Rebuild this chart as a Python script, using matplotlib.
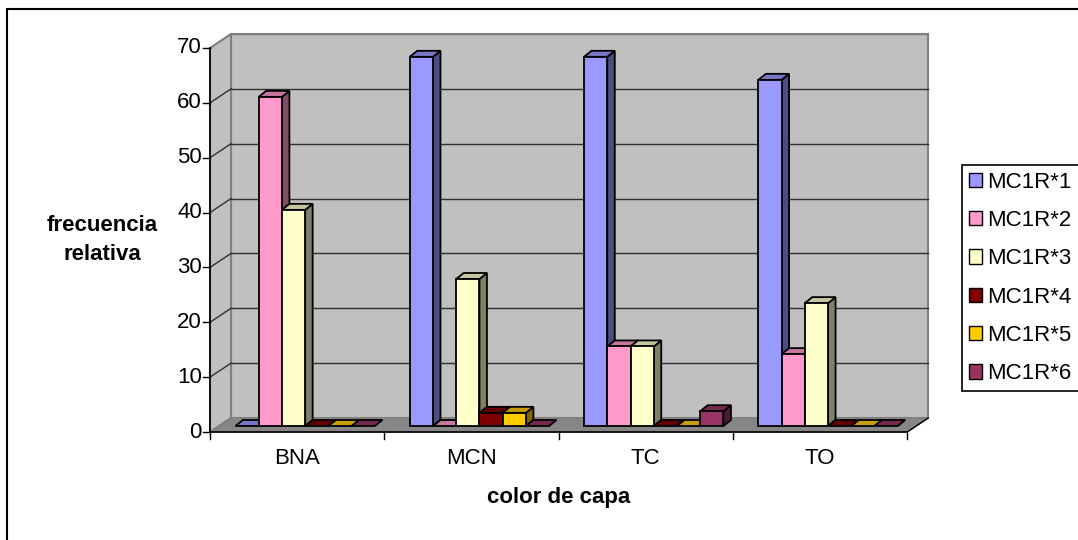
import numpy as np
import matplotlib
matplotlib.use("Agg")
import matplotlib.pyplot as plt
from matplotlib.patches import Polygon, Rectangle, Patch
from matplotlib.lines import Line2D
from matplotlib.transforms import Affine2D, IdentityTransform
from matplotlib.colors import to_rgb

plt.rcParams['font.family'] = ['Liberation Sans', 'DejaVu Sans']

# ---- data -------------------------------------------------------------
categories = ["BNA", "MCN", "TC", "TO"]
series_names = ["MC1R*1", "MC1R*2", "MC1R*3", "MC1R*4", "MC1R*5", "MC1R*6"]
mc1r_1 = [0.0, 67.3, 67.3, 63.1]
mc1r_2 = [60.0, 0.0, 14.5, 13.1]
mc1r_3 = [39.4, 26.8, 14.5, 22.4]
mc1r_4 = [0.0, 2.4, 0.0, 0.0]
mc1r_5 = [0.0, 2.4, 0.0, 0.0]
mc1r_6 = [0.0, 0.0, 2.7, 0.0]
series_values = [mc1r_1, mc1r_2, mc1r_3, mc1r_4, mc1r_5, mc1r_6]
series_colors = ["#9999FF", "#FF99CC", "#FFFFCC", "#800000", "#FFCC00", "#993366"]
y_ticks = list(range(0, 71, 10))

# ---- figure / axes ----------------------------------------------------
W, H, DPI = 1078, 540, 100
fig = plt.figure(figsize=(W / DPI, H / DPI), dpi=DPI)
# axes area = plane of the bar fronts (pixels measured from top-left)
x0_px, x1_px = 218, 915.2
y0_px, y1_px = 426, 42
ax = fig.add_axes([x0_px / W, (H - y0_px) / H, (x1_px - x0_px) / W, (y0_px - y1_px) / H])
ax.set_xlim(0, len(categories))
ax.set_ylim(0, 70)
ax.axis("off")

# depth offsets (display pixels, y up) relative to the bar plane
FRONT = (-8.0, -6.0)
BACK = (13.0, 8.0)
BAR_DEPTH = (7.5, 6.0)

FS = 16


def plane(off):
    return ax.transData + Affine2D().translate(*off)


def pts(off, xy):
    return plane(off).transform(np.asarray(xy, dtype=float))


def add_poly(display_pts, **kw):
    p = Polygon(display_pts, closed=True, transform=IdentityTransform(),
                clip_on=False, **kw)
    ax.add_patch(p)
    return p


def add_line(xs, ys, **kw):
    ln = Line2D(xs, ys, transform=IdentityTransform(), clip_on=False, **kw)
    ax.add_line(ln)
    return ln


ncat = len(categories)
wall_c = "#C0C0C0"
floor_c = "#868686"
edge_gray = "#808080"

# back wall
add_poly(pts(BACK, [(0, 0), (ncat, 0), (ncat, 70), (0, 70)]),
         facecolor=wall_c, edgecolor=edge_gray, lw=1.5, zorder=1)
# left wall
add_poly(np.vstack([pts(FRONT, [(0, 0), (0, 70)]), pts(BACK, [(0, 70), (0, 0)])]),
         facecolor=wall_c, edgecolor=edge_gray, lw=1.5, zorder=1)
# floor
add_poly(np.vstack([pts(FRONT, [(0, 0), (ncat, 0)]), pts(BACK, [(ncat, 0), (0, 0)])]),
         facecolor=floor_c, edgecolor=edge_gray, lw=1.0, zorder=1)

# gridlines on back and left walls
for v in y_ticks[1:]:
    col = "#303030" if v < 70 else edge_gray
    b = pts(BACK, [(0, v), (ncat, v)])
    f = pts(FRONT, [(0, v)])
    add_line(b[:, 0], b[:, 1], color=col, lw=1.0, zorder=2)
    add_line([f[0, 0], b[0, 0]], [f[0, 1], b[0, 1]], color=col, lw=1.0, zorder=2)

# floor right edge
fr = np.vstack([pts(FRONT, [(ncat, 0)]), pts(BACK, [(ncat, 0)])])
add_line(fr[:, 0], fr[:, 1], color="black", lw=1.0, zorder=2)

# value axis (front-left edge) with ticks and labels
va = pts(FRONT, [(0, 0), (0, 70)])
add_line(va[:, 0], va[:, 1], color="black", lw=1.2, zorder=3)
for v in y_ticks:
    p = pts(FRONT, [(0, v)])[0]
    add_line([p[0] - 7, p[0]], [p[1], p[1]], color="black", lw=1.0, zorder=3)
    fig.text((p[0] - 8) / W, p[1] / H, str(v), ha="right", va="center",
             fontsize=FS, color="black")

# category axis (front floor edge) with ticks and labels
ca = pts(FRONT, [(0, 0), (ncat, 0)])
add_line(ca[:, 0], ca[:, 1], color="black", lw=1.2, zorder=3)
for i in range(ncat + 1):
    p = pts(FRONT, [(i, 0)])[0]
    add_line([p[0], p[0]], [p[1], p[1] - 7], color="black", lw=1.0, zorder=3)
for i, name in enumerate(categories):
    p = pts(FRONT, [(i + 0.5, 0)])[0]
    fig.text(p[0] / W, (p[1] - 26) / H, name, ha="center", va="center",
             fontsize=FS, color="black")

# ---- 3D columns -------------------------------------------------------
nser = len(series_values)
bw = 1.0 / (nser + 1.5)
pad = 0.75 * bw


def shade(c, f):
    r, g, b = to_rgb(c)
    return (r * f, g * f, b * f)


z = 10
for ci in range(ncat):
    for si in range(nser):
        v = series_values[si][ci]
        col = series_colors[si]
        xl = ci + pad + si * bw
        xr = xl + bw
        front = pts((0, 0), [(xl, 0), (xr, 0), (xr, v), (xl, v)])
        back = pts(BAR_DEPTH, [(xl, 0), (xr, 0), (xr, v), (xl, v)])
        # side face
        if v > 0:
            add_poly([front[1], back[1], back[2], front[2]], facecolor=shade(col, 0.5),
                     edgecolor="black", lw=1.3, zorder=z)
        # top face
        add_poly([front[3], front[2], back[2], back[3]], facecolor=shade(col, 0.78),
                 edgecolor="black", lw=1.3, zorder=z)
        # front face
        if v > 0:
            bars = ax.bar(xl, v, width=bw, align="edge", color=col, edgecolor="black",
                          linewidth=1.3, clip_on=False)
            for b in bars:
                b.set_zorder(z + 1)
        z += 2

# ---- axis titles ------------------------------------------------------
fig.text(102 / W, 1 - 240 / H, "frecuencia\nrelativa", ha="center", va="center",
         fontsize=FS, fontweight="bold", linespacing=1.45)
fig.text(559 / W, 1 - 498 / H, "color de capa", ha="center", va="center",
         fontsize=FS, fontweight="bold")

# ---- legend -----------------------------------------------------------
handles = [Patch(facecolor=c, edgecolor="black", linewidth=1.0) for c in series_colors]
leg = fig.legend(handles, series_names, loc="upper left",
                 bbox_to_anchor=(962 / W, 1 - 165 / H), borderaxespad=0,
                 fontsize=FS, handlelength=0.6, handleheight=0.6,
                 handletextpad=0.25, labelspacing=0.78, borderpad=0.3,
                 frameon=True, fancybox=False, edgecolor="black", framealpha=1)
leg.get_frame().set_linewidth(1.2)

# outer chart border (open on the right and bottom)
fig.add_artist(Rectangle((7 / W, -1.0), 2.0, 2.0 - 9 / H, transform=fig.transFigure,
                         fill=False, edgecolor="black", lw=1.5, zorder=0))

fig.savefig("out.png", dpi=DPI)
